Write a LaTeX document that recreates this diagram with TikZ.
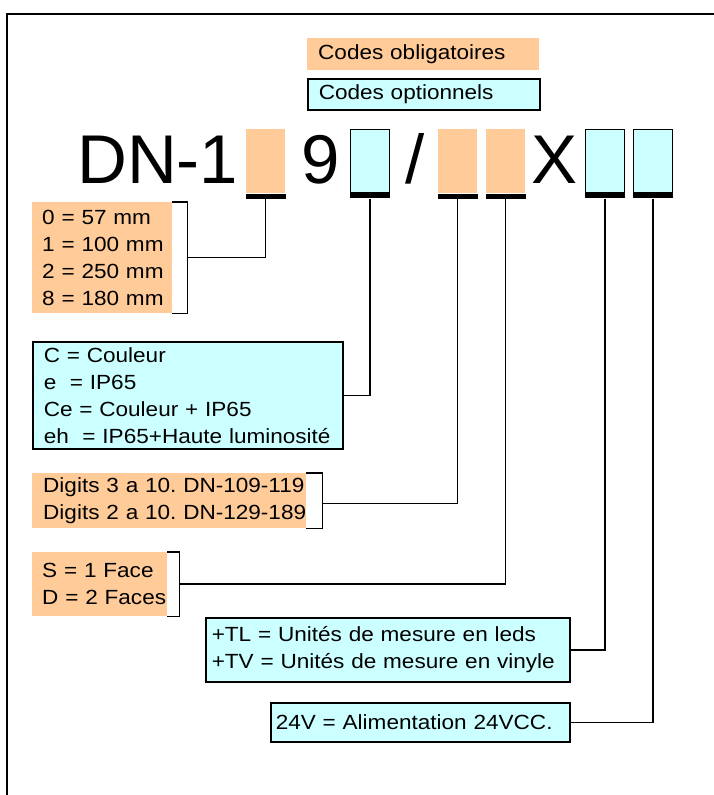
\documentclass[tikz,border=0pt]{standalone}
\usepackage{fontspec}
\setmainfont{Liberation Sans}[FakeStretch=1.1]
\newfontfamily\bigfont{Liberation Sans}
\usetikzlibrary{calc}
\definecolor{orng}{HTML}{FFCC99}
\definecolor{cyn}{HTML}{CCFFFF}
\newcommand\oneline[1]{\mbox{#1}}
\tikzset{
  txt/.style={font=\frenchspacing\fontsize{20.5}{27}\selectfont},
  obox/.style={txt, fill=orng, draw=none, anchor=north west, align=left, inner ysep=0pt, inner xsep=10pt},
  cbox/.style={obox, fill=cyn, draw=black, line width=1.5pt},
  oslot/.style={fill=orng, anchor=north west, minimum width=39pt, minimum height=64pt, inner sep=0pt},
  cslot/.style={oslot, fill=cyn, draw=black, line width=1.2pt, minimum height=63pt},
  bar/.style={fill=black, anchor=north, minimum width=40pt, minimum height=5pt, inner sep=0pt},
  conn/.style={line width=1.5pt},
  brk/.style={line width=1.5pt},
  big/.style={font=\bigfont\fontsize{69}{69}\selectfont, inner sep=0pt, anchor=base},
}
\begin{document}
\begin{tikzpicture}[x=1pt,y=-1pt]
\useasboundingbox (0,0) rectangle (714,795);
% frame
\draw[line width=1.5pt] (714,14) -- (7,14) -- (7,795);

% legend
\node[obox, text width=210pt, minimum height=32pt, inner xsep=11pt] (L1) at (307,38) {\oneline{Codes obligatoires}};
\node[cbox, text width=210pt, minimum height=31pt, inner xsep=11pt] (L2) at (307,78) {\oneline{Codes optionnels}};

% big code
\node[big, anchor=base west] (dn) at (77,183) {DN-1};
\node[big] (nine) at (320.5,183) {9};
\node[big] (slash) at (415,183) {/};
\node[big] (xx) at (555,183) {X};

% slots
\node[oslot] (s1) at (246,129) {};
\node[cslot] (s2) at (350,129) {};
\node[oslot] (s3) at (438,129) {};
\node[oslot] (s4) at (486,129) {};
\node[cslot] (s5) at (585,129) {};
\node[cslot] (s6) at (633,129) {};
\foreach \i in {1,...,6} {\node[bar] (b\i) at (s\i.south) {};}

% description boxes
\node[obox, text width=120pt, minimum height=111pt] (A) at (32,202)
  {\oneline{0 = 57 mm}\\\oneline{1 = 100 mm}\\\oneline{2 = 250 mm}\\\oneline{8 = 180 mm}};
\node[cbox, text width=288pt, minimum height=107pt, inner xsep=11pt] (B) at (32,341)
  {\oneline{C = Couleur}\\\oneline{e\ \ = IP65}\\\oneline{Ce = Couleur + IP65}\\\oneline{eh\ \ = IP65+Haute luminosité}};
\node[obox, text width=252pt, minimum height=55pt, inner xsep=11pt] (C) at (32,473)
  {\oneline{Digits 3 a 10. DN-109-119}\\\oneline{Digits 2 a 10. DN-129-189}};
\node[obox, text width=115pt, minimum height=64pt] (D) at (32,552)
  {\oneline{S = 1 Face}\\\oneline{D = 2 Faces}};
\node[cbox, text width=352pt, minimum height=64pt, inner xsep=6pt] (E) at (205,617)
  {\oneline{+TL = Unités de mesure en leds}\\\oneline{+TV = Unités de mesure en vinyle}};
\node[cbox, text width=289pt, minimum height=39pt, inner xsep=5pt] (F) at (270,702)
  {\oneline{24V = Alimentation 24VCC.}};

% brackets
\draw[brk] (A.north east) -- ++(15,0) |- (A.south east);
\draw[brk] (C.north east) -- ++(16,0) |- (C.south east);
\draw[brk] (D.north east) -- ++(12,0) |- (D.south east);
\coordinate (ab) at ($(A.east)+(15,0)$);
\coordinate (cb) at ($(C.east)+(16,3)$);
\coordinate (db) at ($(D.east)+(12,0)$);

% connectors
\draw[conn] (b1.south) |- (ab);
\draw[conn] (b2.south) |- (B.east);
\draw[conn] (b3.south) |- (cb);
\draw[conn] (b4.south) |- (db);
\draw[conn] (b5.south) |- (E.east);
\draw[conn] (b6.south) |- (F.east);
\end{tikzpicture}
\end{document}
